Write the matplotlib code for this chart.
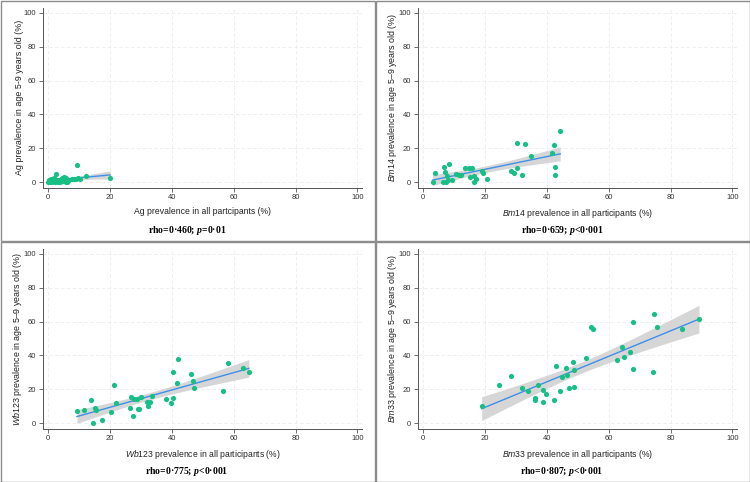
import numpy as np
import matplotlib
matplotlib.use("Agg")
import matplotlib.pyplot as plt
from matplotlib.patches import Rectangle

plt.rcParams['font.family'] = 'Liberation Sans'
plt.rcParams['mathtext.fontset'] = 'custom'
plt.rcParams['mathtext.rm'] = 'Liberation Sans'
plt.rcParams['mathtext.it'] = 'Liberation Sans:italic'
plt.rcParams['mathtext.bfit'] = 'Liberation Serif:italic:bold'

# data (x = all participants %, y = age 5-9 %)
ag_x = [0.0, 0.3, 0.5, 0.8, 1.0, 1.2, 1.5, 1.8, 2.0, 2.2, 2.5, 2.7, 3.0, 3.5, 3.9, 4.3,
        4.6, 4.9, 5.2, 5.4, 5.6, 5.9, 6.1, 6.5, 7.8, 8.3, 8.9, 9.4, 9.6, 10.3, 12.3, 20.0]
ag_y = [0.0, 1.5, 0.3, 2.0, 0.8, 0.0, 1.8, 0.5, 2.2, 0.2, 4.8, 1.0, 0.0, 1.2, 0.3, 1.6,
        2.4, 0.8, 3.1, 1.5, 0.2, 2.2, 0.0, 0.5, 2.0, 1.8, 2.1, 10.0, 2.3, 1.6, 3.8, 2.4]

bm14_x = [3.0, 3.9, 6.8, 7.1, 6.5, 7.2, 7.7, 8.3, 8.1, 9.2, 10.6, 11.6, 12.1, 13.4, 14.7,
          15.2, 15.9, 16.3, 16.3, 17.1, 18.9, 19.2, 20.5, 28.5, 29.5, 30.3, 30.4, 32.0,
          33.0, 35.0, 41.6, 42.4, 42.5, 42.5, 44.3]
bm14_y = [0.0, 5.2, 8.8, 6.0, 0.0, 0.0, 3.4, 10.8, 1.4, 1.4, 4.6, 4.0, 4.2, 8.2, 8.2,
          3.2, 8.2, 3.8, 0.0, 2.0, 6.4, 5.2, 2.0, 6.8, 5.6, 23.2, 8.4, 4.2,
          22.2, 15.2, 17.2, 22.0, 8.8, 4.2, 30.1]

wb123_x = [9.3, 11.6, 13.7, 14.6, 15.2, 15.5, 17.3, 20.2, 21.4, 21.9, 26.4, 26.9, 27.4,
           27.6, 28.8, 28.9, 29.3, 30.0, 32.0, 32.3, 32.9, 33.5, 38.0, 39.7, 40.4, 40.5,
           41.5, 42.0, 46.3, 46.8, 47.2, 56.6, 58.2, 63.0, 64.9]
wb123_y = [7.0, 7.5, 13.8, 0.0, 9.0, 8.0, 2.0, 6.3, 22.6, 12.0, 9.1, 15.4, 4.2,
           14.4, 14.4, 8.2, 8.5, 15.2, 12.4, 10.2, 12.4, 15.9, 14.4, 11.8, 15.0, 30.3,
           23.4, 38.0, 29.1, 24.8, 20.5, 18.7, 35.6, 32.5, 30.3]

bm33_x = [18.9, 24.5, 28.5, 32.0, 33.8, 36.1, 36.3, 37.1, 38.6, 38.9, 39.8, 42.4, 42.8,
          44.4, 44.9, 46.2, 46.6, 47.0, 48.6, 48.7, 48.9, 52.8, 54.4, 54.9, 62.6, 64.3,
          64.9, 67.0, 67.7, 67.7, 74.4, 74.8, 75.5, 83.6, 89.2]
bm33_y = [9.8, 22.4, 27.9, 20.6, 18.9, 14.9, 13.9, 22.4, 19.6, 12.4, 16.9, 13.9, 33.8,
          19.1, 27.5, 32.8, 28.5, 20.6, 36.3, 31.4, 21.4, 38.3, 56.8, 55.4, 37.3, 44.8,
          39.1, 42.0, 59.7, 31.8, 29.9, 64.2, 56.8, 55.8, 61.3]

xlabels = ["Ag prevalence in all partcipants (%)",
           r"$\mathit{Bm14}$ prevalence in all participants (%)",
           r"$\mathit{Wb123}$ prevalence in all participants (%)",
           r"$\mathit{Bm33}$ prevalence in all participants (%)"]
ylabels = ["Ag prevalence in age 5-9 years old (%)",
           r"$\mathit{Bm14}$ prevalence in age 5–9 years old (%)",
           r"$\mathit{Wb123}$ prevalence in age 5–9 years old (%)",
           r"$\mathit{Bm33}$ prevalence in age 5–9 years old (%)"]
captions = [r"rho=0·460; $\mathbfit{p}$=0·01",
            r"rho=0·659; $\mathbfit{p}$<0·001",
            r"rho=0·775; $\mathbfit{p}$<0·001",
            r"rho=0·807; $\mathbfit{p}$<0·001"]
ticks = [0, 20, 40, 60, 80, 100]

series = [(ag_x, ag_y), (bm14_x, bm14_y), (wb123_x, wb123_y), (bm33_x, bm33_y)]

W, H = 750, 482
fig = plt.figure(figsize=(7.5, 4.82), dpi=100)

# quadrant frames
for px, py in [(0, 0), (375, 0), (0, 241), (375, 241)]:
    fig.patches.append(Rectangle((px / W + 0.5 / W, 1 - (py + 241) / H + 0.5 / H),
                                 374 / W, 240 / H, transform=fig.transFigure,
                                 fill=False, edgecolor='#8c8c8c', linewidth=1.0))

for i, (xs, ys) in enumerate(series):
    px = 375 * (i % 2)
    py = 241 * (i // 2)
    ax = fig.add_axes([(px + 43) / W, 1 - (py + 187.5) / H, 319 / W, 179.8 / H])
    x = np.asarray(xs, float)
    y = np.asarray(ys, float)

    # linear fit with 95% CI (like lfitci)
    b, a = np.polyfit(x, y, 1)
    xf = np.linspace(x.min(), x.max(), 100)
    n = len(x)
    s = np.sqrt(np.sum((y - (a + b * x)) ** 2) / (n - 2))
    sxx = np.sum((x - x.mean()) ** 2)
    se = s * np.sqrt(1 / n + (xf - x.mean()) ** 2 / sxx)
    yf = a + b * xf
    ax.fill_between(xf, yf - 2.03 * se, yf + 2.03 * se, color='#d6d6d6', lw=0, zorder=2)
    ax.plot(xf, yf, color='#3f8fe8', lw=1.0, zorder=3)
    ax.scatter(x, y, s=14, color='#17bf85', lw=0, zorder=4)

    ax.set_xlim(-1.7, 101.5)
    ax.set_ylim(-3.2, 103)
    ax.set_xticks(ticks)
    ax.set_yticks(ticks)
    ax.grid(True, ls=(0, (4, 3)), color='#ebebeb', lw=0.6, zorder=0)
    for side in ['top', 'right']:
        ax.spines[side].set_visible(False)
    for side in ['left', 'bottom']:
        ax.spines[side].set_color('#555555')
        ax.spines[side].set_linewidth(0.7)
    ax.tick_params(direction='out', length=3, width=0.6, color='#555555',
                   labelsize=5.5, labelcolor='#333333', pad=2)
    ax.set_xlabel(xlabels[i], fontsize=6.2, color='#222222', labelpad=4)
    ax.set_ylabel(ylabels[i], fontsize=6.4, color='#222222', labelpad=0)

    fig.text((px + 187) / W, 1 - (py + 230) / H, captions[i], ha='center', va='center',
             fontsize=7, fontweight='bold', family='Liberation Serif')

fig.savefig('out.png', dpi=100)
